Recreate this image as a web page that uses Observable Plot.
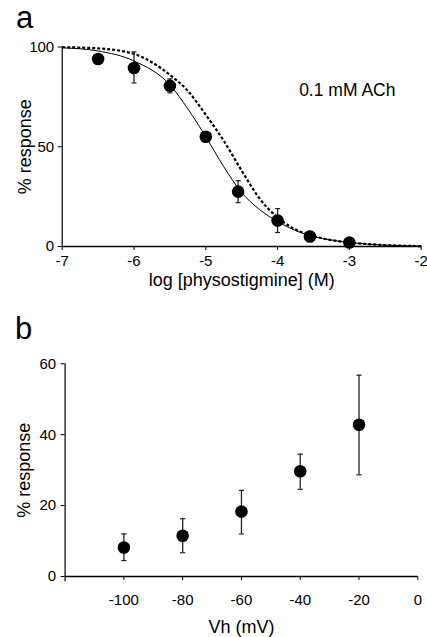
<!DOCTYPE html>
<html>
<head>
<meta charset="utf-8">
<script src="https://cdn.jsdelivr.net/npm/d3@7"></script>
<script src="https://cdn.jsdelivr.net/npm/@observablehq/plot@0.6"></script>
<style>
  html, body { margin: 0; padding: 0; background: #fff; }
  body { width: 427px; height: 637px; position: relative; overflow: hidden; font-family: "Liberation Sans", Arial, sans-serif; }
  .panel { position: absolute; left: 0; }
  .tag { position: absolute; font-size: 31px; color: #000; line-height: 1; z-index: 2; }
</style>
</head>
<body>
<div id="pa" class="panel" style="top:0px;"></div>
<div id="pb" class="panel" style="top:300px;"></div>
<div class="tag" style="left:16px; top:2px;">a</div>
<div class="tag" style="left:15px; top:313px;">b</div>
<script>
// ---- Panel a data ----
const logConc   = [-6.5, -6, -5.5, -5, -4.55, -4, -3.55, -3];
const respMean  = [94, 89.5, 80.5, 55, 27.5, 13, 5, 2];
const respLo    = [92.5, 82, 77, 53.5, 22, 7, 2.5, 0];
const respHi    = [95.5, 97.5, 84, 56.5, 33, 19, 7.5, 4];
const fitX      = [-7, -6.5, -6, -5.5, -5.25, -5, -4.75, -4.5, -4.25, -4, -3.75, -3.5, -3.25, -3, -2.5, -2];
const fitSolid  = [99.6, 98, 93, 81, 69, 55, 40, 27, 18.5, 12.5, 8, 5, 3.2, 2, 0.7, 0.2];
const fitDashed = [99.9, 99.3, 96.5, 86, 78, 66, 53, 38, 24, 14.5, 8.5, 5.2, 3.2, 2, 0.7, 0.2];
const aTicksX   = [-7, -6, -5, -4, -3, -2];
const aTicksY   = [0, 50, 100];
const aNote     = "0.1 mM ACh";

// ---- Panel b data ----
const vh       = [-100, -80, -60, -40, -20];
const vhMean   = [8.2, 11.5, 18.3, 29.7, 42.8];
const vhLo     = [4.5, 6.7, 12, 24.6, 28.7];
const vhHi     = [12, 16.3, 24.3, 34.5, 56.8];
const bTicksX  = [-100, -80, -60, -40, -20, 0];
const bTicksY  = [0, 20, 40, 60];

const font = '"Liberation Sans", Arial, sans-serif';
const fmt = d => String(d);

const ptsA = logConc.map((x, i) => ({x, y: respMean[i], lo: respLo[i], hi: respHi[i]}));
const fitA = fitX.map((x, i) => ({x, solid: fitSolid[i], dashed: fitDashed[i]}));
const ptsB = vh.map((x, i) => ({x, y: vhMean[i], lo: vhLo[i], hi: vhHi[i]}));

const capA = 0.035, capB = 0.9;

const plotA = Plot.plot({
  width: 427, height: 300,
  marginTop: 46.5, marginBottom: 54, marginLeft: 61.7, marginRight: 6.3,
  style: {fontFamily: font, fontSize: "15px", color: "#000", background: "#fff", overflow: "visible"},
  x: {domain: [-7, -2]},
  y: {domain: [0, 100]},
  marks: [
    Plot.ruleY([0], {x1: -7, x2: -2, stroke: "#000", strokeWidth: 1.6}),
    Plot.ruleX([-7], {y1: 0, y2: 100, stroke: "#000", strokeWidth: 1.2}),
    Plot.axisX({ticks: aTicksX, tickSize: 4, tickPadding: 5, label: null, fontSize: 15, tickFormat: fmt}),
    Plot.axisY({ticks: aTicksY, tickSize: 4, tickPadding: 4, label: null, fontSize: 15, tickFormat: fmt}),
    Plot.line(fitA, {x: "x", y: "dashed", curve: "monotone-x", stroke: "#000", strokeWidth: 2.2, strokeDasharray: "3,2", strokeLinecap: "butt"}),
    Plot.line(fitA, {x: "x", y: "solid", curve: "monotone-x", stroke: "#000", strokeWidth: 1}),
    Plot.ruleX(ptsA, {x: "x", y1: "lo", y2: "hi", stroke: "#222", strokeWidth: 1.3}),
    Plot.link(ptsA, {x1: d => d.x - capA, x2: d => d.x + capA, y1: "hi", y2: "hi", stroke: "#222", strokeWidth: 1.2}),
    Plot.link(ptsA, {x1: d => d.x - capA, x2: d => d.x + capA, y1: "lo", y2: "lo", stroke: "#222", strokeWidth: 1.2}),
    Plot.dot(ptsA, {x: "x", y: "y", r: 6.3, fill: "#000", stroke: "none"}),
    Plot.text([aNote], {x: -3.7, y: 78, text: d => d, textAnchor: "start", fontSize: 17.5, fill: "#000"}),
    Plot.text(["log [physostigmine] (M)"], {frameAnchor: "bottom", lineAnchor: "middle", textAnchor: "middle", dy: 34, fontSize: 18, fill: "#000"}),
    Plot.text(["% response"], {frameAnchor: "left", textAnchor: "middle", lineAnchor: "middle", rotate: -90, dx: -37, fontSize: 18, fill: "#000"})
  ]
});
document.getElementById("pa").appendChild(plotA);

const plotB = Plot.plot({
  width: 427, height: 337,
  marginTop: 63.3, marginBottom: 61, marginLeft: 64.6, marginRight: 9.7,
  style: {fontFamily: font, fontSize: "15px", color: "#000", background: "#fff", overflow: "visible"},
  x: {domain: [-120, 0]},
  y: {domain: [0, 60]},
  marks: [
    Plot.ruleY([0], {x1: -120, x2: 0, stroke: "#000", strokeWidth: 1.4}),
    Plot.ruleX([-120], {y1: -1.5, y2: 60, stroke: "#000", strokeWidth: 1.2}),
    Plot.axisX({ticks: bTicksX, tickSize: 4, tickPadding: 14, label: null, fontSize: 15, tickFormat: fmt}),
    Plot.axisY({ticks: bTicksY, tickSize: 4, tickPadding: 5, label: null, fontSize: 15, tickFormat: fmt}),
    Plot.ruleX(ptsB, {x: "x", y1: "lo", y2: "hi", stroke: "#222", strokeWidth: 1.3}),
    Plot.link(ptsB, {x1: d => d.x - capB, x2: d => d.x + capB, y1: "hi", y2: "hi", stroke: "#222", strokeWidth: 1.2}),
    Plot.link(ptsB, {x1: d => d.x - capB, x2: d => d.x + capB, y1: "lo", y2: "lo", stroke: "#222", strokeWidth: 1.2}),
    Plot.dot(ptsB, {x: "x", y: "y", r: 6.3, fill: "#000", stroke: "none"}),
    Plot.text(["Vh (mV)"], {frameAnchor: "bottom", lineAnchor: "middle", textAnchor: "middle", dy: 51, fontSize: 18, fill: "#000"}),
    Plot.text(["% response"], {frameAnchor: "left", textAnchor: "middle", lineAnchor: "middle", rotate: -90, dx: -41, fontSize: 18, fill: "#000"})
  ]
});
document.getElementById("pb").appendChild(plotB);
</script>
</body>
</html>
